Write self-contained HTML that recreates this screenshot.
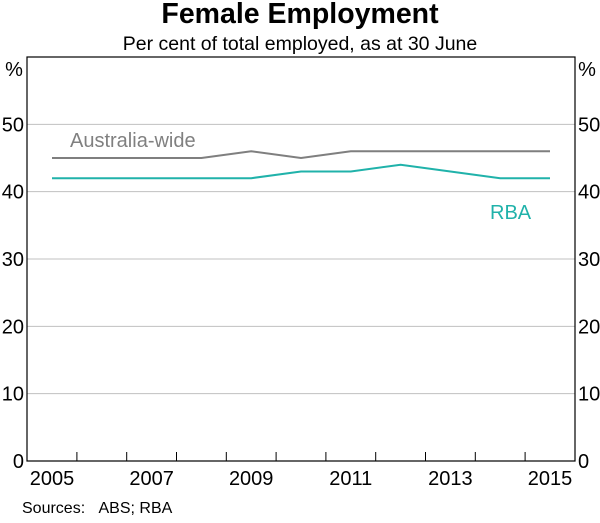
<!DOCTYPE html>
<html><head><meta charset="utf-8"><style>
body{margin:0;background:#fff;}
svg text{font-family:"Liberation Sans",Arial,sans-serif;}
</style></head><body>
<svg width="600" height="518" viewBox="0 0 600 518">
<text x="300" y="23" text-anchor="middle" font-size="28.5" font-weight="bold" fill="#000">Female Employment</text>
<text x="300" y="50" text-anchor="middle" font-size="19.5" fill="#000">Per cent of total employed, as at 30 June</text>
<g id="grid"></g>
<g id="series"></g>
<rect x="27" y="57" width="548" height="404" fill="none" stroke="#000" stroke-width="1.2"/>
<g id="axes"></g>
<text x="14" y="76" text-anchor="middle" font-size="20">%</text>
<text x="587" y="76" text-anchor="middle" font-size="20">%</text>
<text x="70" y="147" font-size="20" fill="#808080">Australia-wide</text>
<text x="490" y="219" font-size="20" fill="#20b2aa">RBA</text>
<text x="22" y="513" font-size="16">Sources:&#160;&#160;&#160;ABS; RBA</text>
</svg>
<script>
const years=[2005,2006,2007,2008,2009,2010,2011,2012,2013,2014,2015];
const australiaWide=[45,45,45,45,46,45,46,46,46,46,46];
const rba=[42,42,42,42,42,43,43,44,43,42,42];
const yTicks=[0,10,20,30,40,50];
const xLabels=[2005,2007,2009,2011,2013,2015];
const NS="http://www.w3.org/2000/svg";
const L=27,R=575,T=57,B=461;
const x=yr=>52+(yr-2005)*49.8;
const y=v=>B-(v/60)*(B-T);
const grid=document.getElementById('grid'),axes=document.getElementById('axes'),ser=document.getElementById('series');
function mk(tag,attrs,parent){const e=document.createElementNS(NS,tag);for(const k in attrs)e.setAttribute(k,attrs[k]);parent.appendChild(e);return e;}
yTicks.forEach(v=>{
 if(v>0){const g=mk('line',{x1:L,x2:R,y1:y(v),y2:y(v),stroke:'#c0c0c0','stroke-width':1},grid);
 
 }
 [[L-3,'end'],[R+3,'start']].forEach(([tx,a],i)=>{
  const t=mk('text',{x:tx,y:y(v)+7,'text-anchor':a,'font-size':20},axes);t.textContent=v;
  
  
 });
});
years.slice(0,-1).forEach(yr=>{
 const tk=mk('line',{x1:x(yr)+24.9,x2:x(yr)+24.9,y1:B,y2:B-9,stroke:'#000','stroke-width':1},axes);
 
 
});
xLabels.forEach(yr=>{
 const t=mk('text',{x:x(yr),y:485,'text-anchor':'middle','font-size':20},axes);t.textContent=yr;
 
 
});
function line(vals,color,name){
 const p=mk('polyline',{points:vals.map((v,i)=>x(years[i])+','+y(v)).join(' '),fill:'none',stroke:color,'stroke-width':2},ser);
 
 
}
line(australiaWide,'#7f7f7f','line-australia-wide');
line(rba,'#20b2aa','line-rba');
</script>
</body></html>
